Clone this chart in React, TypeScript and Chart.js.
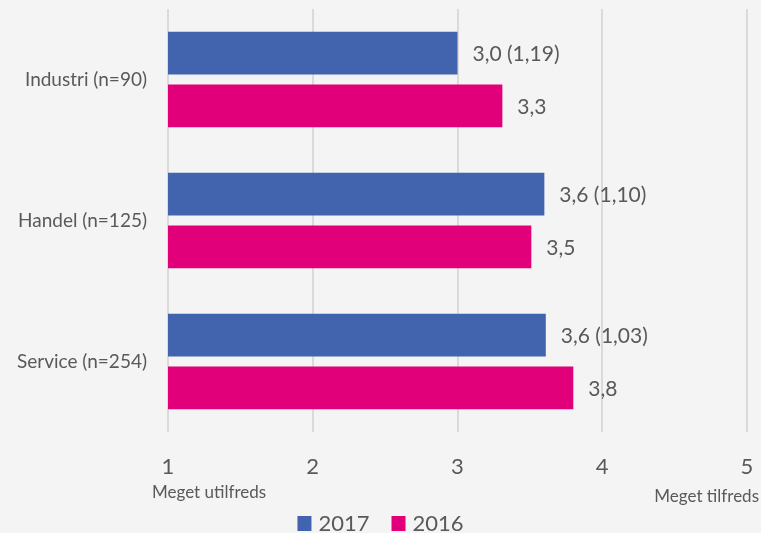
import React, { useEffect, useRef } from "react";
import { Chart, registerables } from "chart.js";

Chart.register(...registerables);

const categories = ["Industri (n=90)", "Handel (n=125)", "Service (n=254)"];
const seriesNames = ["2017", "2016"];
const values2017 = [3.0, 3.6, 3.61];
const values2016 = [3.31, 3.51, 3.8];
const labels2017 = ["3,0 (1,19)", "3,6 (1,10)", "3,6 (1,03)"];
const labels2016 = ["3,3", "3,5", "3,8"];
const xTicks = [1, 2, 3, 4, 5];
const lowLabel = "Meget utilfreds";
const highLabel = "Meget tilfreds";

const BLUE = "#4264AE";
const MAGENTA = "#E2007A";
const TEXT = "#595959";
const FONT = "Lato, 'Open Sans', sans-serif";

export default function App() {
  const ref = useRef<HTMLCanvasElement | null>(null);

  useEffect(() => {
    if (!ref.current) return;
    const dataLabels = [labels2017, labels2016];

    const extras = {
      id: "extras",
      afterDatasetsDraw(chart: any) {
        const ctx = chart.ctx;
        ctx.save();
        ctx.fillStyle = TEXT;
        ctx.font = `21px ${FONT}`;
        ctx.textAlign = "left";
        ctx.textBaseline = "middle";
        chart.data.datasets.forEach((_: any, di: number) => {
          const meta = chart.getDatasetMeta(di);
          meta.data.forEach((el: any, i: number) => {
            ctx.fillText(dataLabels[di][i], el.x + 15, el.y + 1);
          });
        });
        ctx.restore();
      },
      afterDraw(chart: any) {
        const ctx = chart.ctx;
        const xs = chart.scales.x;
        ctx.save();
        ctx.fillStyle = TEXT;
        ctx.font = `17px ${FONT}`;
        ctx.textBaseline = "middle";
        ctx.textAlign = "left";
        ctx.fillText(lowLabel, xs.getPixelForValue(xTicks[0]) - 16, 493);
        ctx.textAlign = "right";
        ctx.fillText(highLabel, chart.width - 2, 497);

        // legend
        ctx.font = `22px ${FONT}`;
        const colors = [BLUE, MAGENTA];
        const box = 14;
        const gapBox = 7;
        const gapItem = 22;
        const widths = seriesNames.map((n) => ctx.measureText(n).width);
        let total = 0;
        widths.forEach((w, i) => {
          total += box + gapBox + w + (i < widths.length - 1 ? gapItem : 0);
        });
        let x = chart.width / 2 - total / 2;
        const cy = 523;
        ctx.textAlign = "left";
        seriesNames.forEach((n, i) => {
          ctx.fillStyle = colors[i];
          ctx.fillRect(x, cy - box / 2, box, box + 1);
          x += box + gapBox;
          ctx.fillStyle = TEXT;
          ctx.fillText(n, x, cy + 1);
          x += widths[i] + gapItem;
        });
        ctx.restore();
      },
    };

    const chart = new Chart(ref.current, {
      type: "bar",
      data: {
        labels: categories,
        datasets: [
          {
            label: seriesNames[0],
            data: values2017,
            backgroundColor: BLUE,
            borderWidth: 0,
            categoryPercentage: 0.75,
            barPercentage: 0.81,
          },
          {
            label: seriesNames[1],
            data: values2016,
            backgroundColor: MAGENTA,
            borderWidth: 0,
            categoryPercentage: 0.75,
            barPercentage: 0.81,
          },
        ],
      },
      options: {
        indexAxis: "y",
        animation: false,
        responsive: true,
        maintainAspectRatio: false,
        layout: { padding: { top: 9, right: 14, left: 0, bottom: 0 } },
        plugins: {
          legend: { display: false },
          tooltip: { enabled: false },
        },
        scales: {
          x: {
            min: 1,
            max: 5,
            afterBuildTicks(scale: any) {
              scale.ticks = xTicks.map((v) => ({ value: v }));
            },
            afterFit(scale: any) {
              scale.height = 101;
              scale.paddingLeft = 0;
              scale.paddingRight = 0;
            },
            grid: {
              color: "#DADADA",
              lineWidth: 2,
              drawTicks: false,
            },
            border: { display: false },
            ticks: {
              color: TEXT,
              font: { size: 22, family: FONT },
              padding: 22,
              maxRotation: 0,
            },
          },
          y: {
            afterFit(scale: any) {
              scale.width = 168;
              scale.paddingTop = 0;
              scale.paddingBottom = 0;
            },
            grid: { display: false, drawTicks: false },
            border: { display: false },
            ticks: {
              color: TEXT,
              font: { size: 19, family: FONT },
              padding: 21,
            },
          },
        },
      },
      plugins: [extras],
    });
    return () => chart.destroy();
  }, []);

  return (
    <div
      style={{
        position: "absolute",
        left: 0,
        top: 0,
        width: 761,
        height: 533,
        background: "#F4F4F4",
      }}
    >
      <canvas ref={ref} />
    </div>
  );
}
